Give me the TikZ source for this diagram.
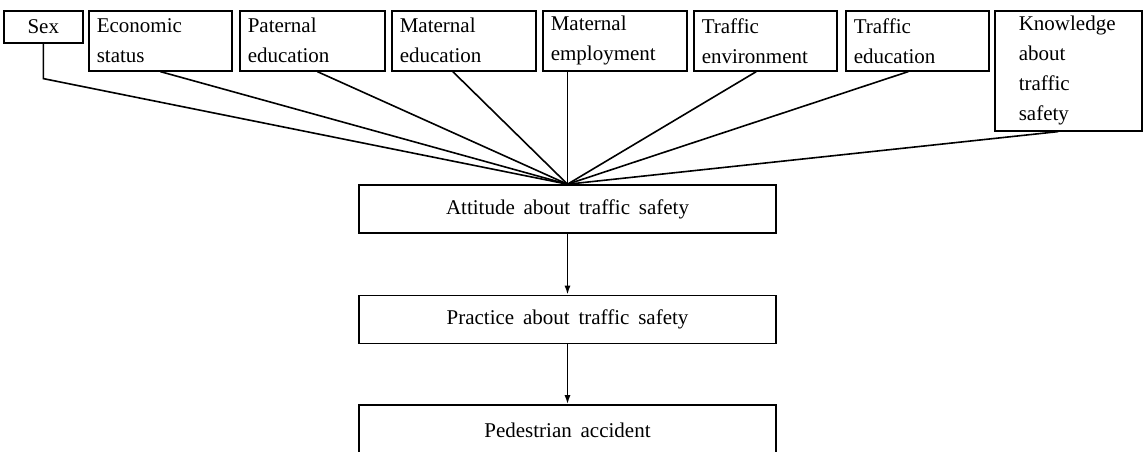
\documentclass[tikz,border=0pt]{standalone}
\usepackage{fontspec}
\setmainfont{Liberation Serif}
\usetikzlibrary{arrows.meta}
\newcommand{\boxfont}{\fontsize{21}{30}\selectfont}
\newcommand{\stagefont}{\fontsize{21}{30}\selectfont\spaceskip=0.42em plus 0.1em}

\begin{document}
\begin{tikzpicture}[x=1pt,y=-1pt,line width=1.6pt,
  factor/.style={draw,anchor=north west,align=left,inner xsep=8pt,inner ysep=5pt,minimum height=60pt,text width=#1,font=\boxfont},
  stage/.style={draw,minimum width=417pt,minimum height=48pt,font=\stagefont}]
  \useasboundingbox (0,0) rectangle (1143,451);
  \clip (0,0) rectangle (1143,451);
  % influencing factors
  \node[factor=63pt,align=center,minimum height=32pt] (sex) at (3,10) {Sex};
  \node[factor=127pt] (econ) at (88,10) {Economic\\status};
  \node[factor=129pt] (pedu) at (239,10) {Paternal\\education};
  \node[factor=128pt] (medu) at (391,10) {Maternal\\education};
  \node[factor=128pt] (memp) at (542,10) {Maternal\\employment};
  \node[factor=127pt] (tenv) at (693,10) {Traffic\\environment};
  \node[factor=127pt] (tedu) at (845,10) {Traffic\\education};
  \node[factor=99pt,inner xsep=24pt,minimum height=120pt] (know) at (994,10) {Knowledge\\about\\traffic\\safety};
  % chain
  \node[stage] (att) at (567.5,209) {Attitude about traffic safety};
  \node[stage] (prac) at (567.5,319.5) {Practice about traffic safety};
  \node[stage,minimum height=51pt] (ped) at (567.5,430.5) {Pedestrian accident};
  \draw (sex.south) -- ++(0,35) -- (att.north);
  \draw (econ.south) -- (att.north);
  \draw ([xshift=5pt]pedu.south) -- (att.north);
  \draw ([xshift=-11pt]medu.south) -- (att.north);
  \draw (memp.south -| att.north) -- (att.north);
  \draw ([xshift=-9pt]tenv.south) -- (att.north);
  \draw ([xshift=-9pt]tedu.south) -- (att.north);
  \draw ([xshift=-10pt]know.south) -- (att.north);
  \draw[-{Latex[length=9pt,width=6pt]}] (att) -- (prac);
  \draw[-{Latex[length=9pt,width=6pt]}] (prac) -- (ped);
\end{tikzpicture}
\end{document}
